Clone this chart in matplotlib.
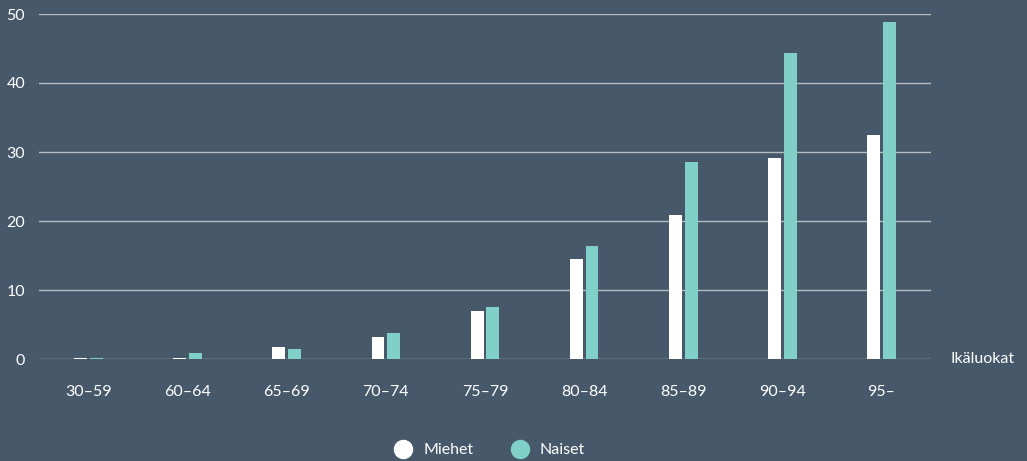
import matplotlib

matplotlib.use("Agg")
import matplotlib.pyplot as plt
import numpy as np
from matplotlib.lines import Line2D

categories = ["30–59", "60–64", "65–69", "70–74", "75–79", "80–84", "85–89", "90–94", "95–"]
miehet = [0.2, 0.2, 1.75, 3.2, 7.0, 14.5, 20.9, 29.1, 32.5]
naiset = [0.2, 0.9, 1.45, 3.8, 7.5, 16.4, 28.5, 44.3, 48.8]

BG = "#465869"
TEAL = "#80cfc9"
GRID = "#b4bcc4"
FS = 11.5

plt.rcParams["font.family"] = ["Lato", "DejaVu Sans"]

fig = plt.figure(figsize=(10.27, 4.61), dpi=100, facecolor=BG)
ax = fig.add_axes([39 / 1027, 1 - 359 / 461, 892 / 1027, 345 / 461])
ax.set_facecolor(BG)

x = np.arange(len(categories))
ax.bar(x - 0.08, miehet, width=0.13, color="white", zorder=3)
ax.bar(x + 0.08, naiset, width=0.13, color=TEAL, zorder=3)

ax.set_xlim(-0.5, len(categories) - 0.5)
ax.set_ylim(0, 50)
ax.set_yticks([0, 10, 20, 30, 40, 50])
ax.grid(axis="y", color=GRID, linewidth=1, zorder=1)
ax.set_axisbelow(True)
for s in ax.spines.values():
    s.set_visible(False)
ax.set_xticks(x)
ax.set_xticklabels(categories)
ax.tick_params(axis="both", length=0, colors="white", labelsize=FS)
ax.tick_params(axis="x", pad=19)
ax.tick_params(axis="y", pad=10)

fig.text(951 / 1027, 1 - 359 / 461, "Ikäluokat", color="white", fontsize=FS,
         ha="left", va="center")

handles = [
    Line2D([], [], marker="o", linestyle="none", markersize=13, markerfacecolor="white", markeredgecolor="white"),
    Line2D([], [], marker="o", linestyle="none", markersize=13, markerfacecolor=TEAL, markeredgecolor=TEAL),
]
leg = fig.legend(handles, ["Miehet", "Naiset"], loc="center", bbox_to_anchor=(490 / 1027, 1 - 450 / 461),
                 ncol=2, frameon=False, fontsize=FS, handlelength=1.0, handletextpad=0.75,
                 columnspacing=2.4)
for t in leg.get_texts():
    t.set_color("white")

fig.savefig("out.png", dpi=100, facecolor=BG)
